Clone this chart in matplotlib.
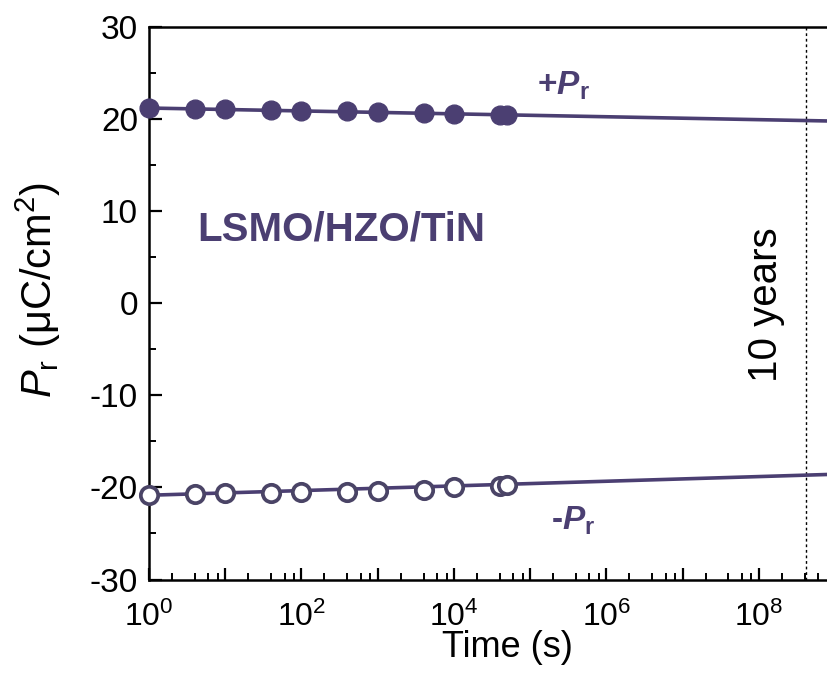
import math
import matplotlib
matplotlib.use("Agg")
import matplotlib.pyplot as plt
from matplotlib.ticker import LogLocator, FuncFormatter, MultipleLocator, NullFormatter

plt.rcParams['font.family'] = ['Liberation Sans', 'DejaVu Sans']
plt.rcParams['mathtext.fontset'] = 'custom'
plt.rcParams['mathtext.rm'] = 'Liberation Sans'
plt.rcParams['mathtext.it'] = 'Liberation Sans:italic'
plt.rcParams['mathtext.bf'] = 'Liberation Sans:bold'
plt.rcParams['mathtext.bfit'] = 'Liberation Sans:bold:italic'
plt.rcParams['axes.unicode_minus'] = False

# data
time_s = [1, 4, 10, 40, 100, 400, 1000, 4000, 1e4, 4e4, 5e4]
pos_pr = [21.2, 21.1, 21.05, 21.0, 20.9, 20.9, 20.8, 20.7, 20.6, 20.45, 20.45]
neg_pr = [-20.8, -20.7, -20.6, -20.6, -20.5, -20.5, -20.4, -20.25, -19.95, -19.8, -19.7]
fit_x = [1, 1e9]
fit_pos = [21.2, 19.78]
fit_neg = [-20.85, -18.57]
ten_years = 4.2e8

col = '#4b3f72'
col_open = '#4a4466'

fig = plt.figure(figsize=(8.28, 6.76), dpi=100)
ax = fig.add_axes([149/828, 1 - 579.5/676, (835-149)/828, (579.5-27)/676])

ax.plot(fit_x, fit_pos, color=col, lw=2.6, zorder=2)
ax.plot(fit_x, fit_neg, color=col, lw=2.6, zorder=2)
ax.plot(time_s, pos_pr, 'o', color=col, ms=13.5, zorder=3, clip_on=False)
ax.plot(time_s, neg_pr, 'o', mfc='white', mec=col_open, mew=2.7, ms=12.5, zorder=3, clip_on=False)
ax.axvline(ten_years, color='black', lw=1.0, ls=(0, (2, 2)), zorder=1)

ax.set_xscale('log')
ax.set_xlim(1, 1e9)
ax.set_ylim(-30, 30)

ax.xaxis.set_major_locator(LogLocator(base=10, numticks=20))
ax.xaxis.set_minor_locator(LogLocator(base=10, subs=[2, 4, 6, 8], numticks=20))
def fmt(v, pos):
    e = int(round(math.log10(v)))
    return r'$\mathregular{10^{%d}}$' % e if e % 2 == 0 else ''
ax.xaxis.set_major_formatter(FuncFormatter(fmt))
ax.xaxis.set_minor_formatter(NullFormatter())
ax.yaxis.set_major_locator(MultipleLocator(10))
ax.yaxis.set_minor_locator(MultipleLocator(5))

ax.tick_params(which='major', direction='in', length=9, width=1.6, labelsize=24, pad=8)
ax.tick_params(which='minor', direction='in', length=5, width=1.4)
ax.tick_params(axis='x', which='major', pad=16, labelsize=23)
ax.tick_params(top=False, right=False, which='both')
for s in ['left', 'bottom', 'top']:
    ax.spines[s].set_linewidth(1.8)
ax.spines['right'].set_visible(False)

ax.set_xlabel('Time (s)', fontsize=26)
ax.xaxis.set_label_coords(0.523, -0.092)
ax.set_ylabel(r'$\mathit{P}_{\mathrm{r}}$ (μC/cm$^{2}$)', fontsize=30)
ax.yaxis.set_label_coords(-0.125, 0.524)

ax.text(0.070, 0.634, 'LSMO/HZO/TiN', transform=ax.transAxes, fontsize=29,
        fontweight='bold', color=col, ha='left', va='center')
ax.text(0.565, 0.877, r'+$\mathbfit{P}_{\mathbf{r}}$', transform=ax.transAxes, fontsize=24,
        fontweight='bold', color=col, ha='left', va='baseline')
ax.text(0.586, 0.0896, r'-$\mathbfit{P}_{\mathbf{r}}$', transform=ax.transAxes, fontsize=24,
        fontweight='bold', color=col, ha='left', va='baseline')
ax.text(0.899, 0.497, '10 years', transform=ax.transAxes, fontsize=29,
        rotation=90, ha='center', va='center', color='black')

fig.savefig('out.png', dpi=100)
